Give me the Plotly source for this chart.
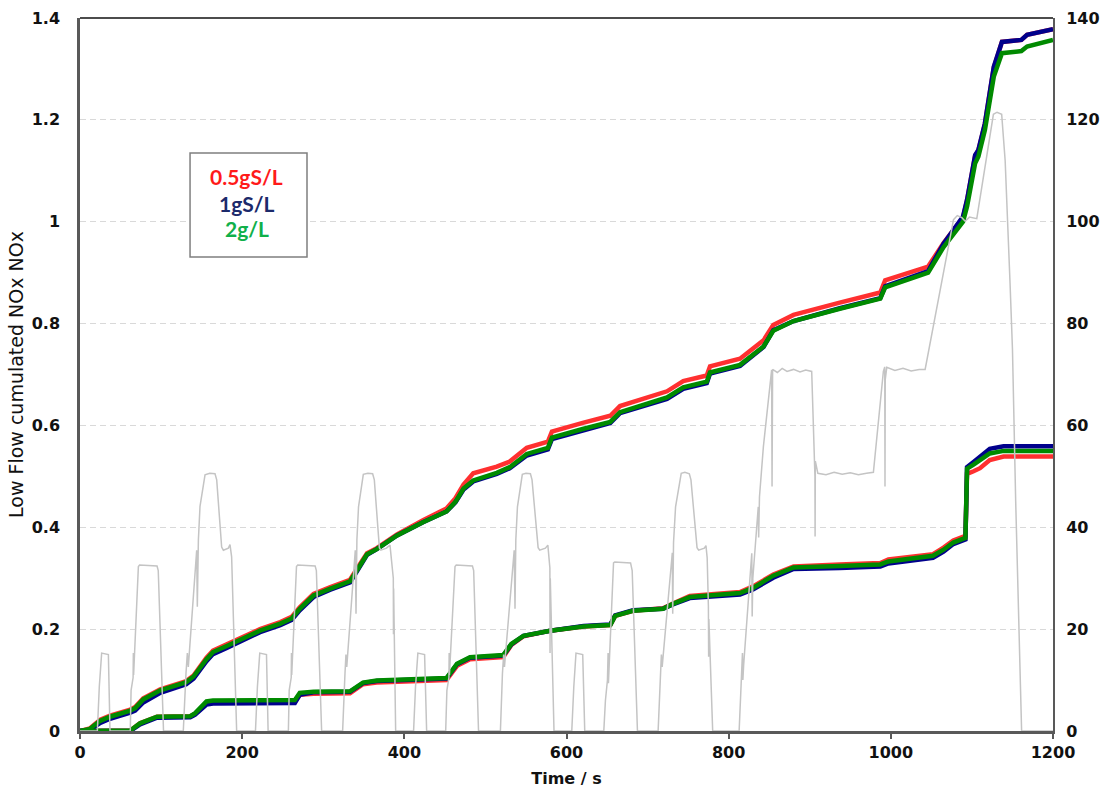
import plotly.graph_objects as go

# ---- Driving cycle speed trace (km/h), right axis ----
T_SPD = [0, 21.4, 23.8, 25.5, 26.7, 35, 37,
         62, 63, 65.5, 65.8, 66.1, 72, 73.5, 95, 96.5, 103,
         127.4, 130.7, 132.4, 133.6, 143.9, 144.7, 146, 148, 154.2, 160, 166.5, 168.6, 174.7, 176.8, 183, 185, 187, 193.2,
         216.4, 218.8, 220.5, 221.7, 230, 232,
         257, 258, 260.5, 260.8, 261.1, 267, 268.5, 290, 291.5, 298,
         323.9, 326.8, 328, 329, 339.5, 340.4, 341.5, 343.5, 349.4, 355, 360.9, 363, 369.2, 371, 378, 382.3, 384, 386.4, 386.6, 386.8, 389.3,
         411.4, 413.8, 415.5, 416.7, 425, 427.5,
         451, 452.5, 455, 455.3, 455.6, 462.5, 464, 484, 485.5, 491.5,
         518.5, 521, 522.5, 523.5, 535.5, 536.5, 537.5, 539.5, 545.5, 550, 555.5, 557.5, 565, 567, 574, 577, 578.5, 579.5, 579.7, 580, 584.6,
         606.5, 609, 610.5, 611.7, 620, 622.5,
         646, 648, 650.5, 651.3, 651.7, 658, 659.5, 679, 681, 687.5,
         713, 715.5, 717, 718, 730.5, 731, 732, 734.5, 741.5, 746, 751.5, 753.5, 761, 763, 770, 772, 773.5, 775, 775.3, 775.6, 780.3,
         812.9, 814.9, 816.5, 817, 817.5, 818.5, 828.5, 829, 829.8, 836.5, 837, 838, 842.8, 853, 853.5, 854.2,
         860, 866, 872, 880, 888, 895, 902.4, 904.6, 906.4, 906.6, 906.9, 910,
         920, 930, 940, 950, 960, 970, 978.5, 990.8, 992.5, 992.8, 993.1, 995,
         1005, 1015, 1025, 1035, 1042.3, 1077.3, 1082, 1087.6, 1091.7, 1097, 1106,
         1126.5, 1131, 1136.7, 1141, 1147, 1150, 1154, 1158, 1161.3, 1200]
V_SPD = [0, 0, 8.7, 14, 15.3, 15, 0,
         0, 8, 10.5, 15.3, 11, 32.3, 32.6, 32.4, 31.5, 0,
         0, 11.3, 15.3, 12.6, 35.5, 24.4, 37.5, 44.1, 50.3, 50.6, 50.5, 49.3, 36.1, 35.5, 35.9, 36.6, 34.2, 0,
         0, 8.7, 14, 15.3, 15, 0,
         0, 8, 10.5, 15.3, 11, 32.3, 32.6, 32.4, 31.5, 0,
         0, 11.3, 15, 12.6, 35.5, 23, 37.5, 44, 50.4, 50.6, 50.5, 49.3, 36, 35.5, 35.9, 36.5, 34, 30, 19, 28, 0,
         0, 8.7, 14, 15.3, 15, 0,
         0, 8, 10.5, 15.3, 11, 32.3, 32.6, 32.4, 31.5, 0,
         0, 11.3, 15, 12.6, 35.5, 24, 37.5, 44, 50.4, 50.6, 50.5, 49.3, 36, 35.5, 35.9, 36.5, 34, 32, 15.3, 30, 0,
         0, 8.7, 14, 15.3, 15, 0,
         0, 6, 10, 15.3, 9.4, 33, 33.2, 33, 31.5, 0,
         0, 11.3, 15, 12.6, 35, 23, 37, 44, 50.6, 50.8, 50.5, 49.3, 36, 35.5, 35.9, 36.4, 34, 24.4, 14.6, 22, 0,
         0, 7.4, 13, 15.3, 10, 13, 34.9, 22.5, 30, 44, 38, 46, 55.8, 70.9, 48, 71,
         70.4, 71.2, 70.6, 71, 70.5, 70.9, 70.6, 57.8, 50, 38.2, 53, 50.6,
         50.3, 50.8, 50.4, 50.7, 50.3, 50.6, 50.8, 70.6, 71.5, 48, 69, 71.4,
         70.8, 71.2, 70.7, 71, 71, 100.4, 101.2, 100.8, 100.1, 100.9, 100.6,
         121.1, 121.5, 121.1, 112, 88, 75, 45, 18, 0, 0]

# ---- Cumulated NOx, upper group (left axis) ----
T_UP = [0, 12, 25, 37, 62, 68, 78, 99, 131, 140, 156, 164, 181, 193, 222, 247, 261, 271, 288, 308,
        321, 333, 341, 354, 366, 382, 391, 423, 452, 463, 473, 485, 514, 530, 551, 577, 582, 620, 654, 666,
        724, 744, 773, 777, 814, 843, 855, 880, 910, 937, 987, 993, 1046, 1065, 1089, 1094, 1104, 1108, 1116, 1127, 1137,
        1145, 1161, 1168, 1200]
G_UP = [0, 0.004, 0.020, 0.028, 0.040, 0.045, 0.062, 0.080, 0.096, 0.107, 0.141, 0.155, 0.167, 0.176, 0.197, 0.211, 0.221, 0.240, 0.266, 0.279,
        0.287, 0.294, 0.314, 0.347, 0.357, 0.374, 0.384, 0.410, 0.431, 0.450, 0.476, 0.492, 0.507, 0.518, 0.544, 0.556, 0.576, 0.593, 0.607, 0.626,
        0.655, 0.675, 0.686, 0.704, 0.719, 0.755, 0.786, 0.805, 0.818, 0.829, 0.849, 0.871, 0.900, 0.950, 1.000, 1.030, 1.115, 1.128, 1.180, 1.285, 1.331,
        1.333, 1.335, 1.344, 1.357]
B_UP = [0, 0.002, 0.016, 0.024, 0.036, 0.040, 0.056, 0.075, 0.092, 0.103, 0.137, 0.151, 0.163, 0.172, 0.194, 0.208, 0.218, 0.237, 0.263, 0.277,
        0.285, 0.292, 0.312, 0.346, 0.357, 0.374, 0.384, 0.410, 0.431, 0.449, 0.474, 0.490, 0.505, 0.516, 0.541, 0.553, 0.573, 0.590, 0.605, 0.624,
        0.652, 0.672, 0.683, 0.702, 0.717, 0.754, 0.787, 0.805, 0.819, 0.830, 0.850, 0.873, 0.903, 0.957, 1.010, 1.043, 1.131, 1.141, 1.193, 1.304, 1.353,
        1.355, 1.357, 1.367, 1.378]
R_UP = [0, 0.005, 0.022, 0.030, 0.042, 0.047, 0.064, 0.082, 0.098, 0.109, 0.144, 0.158, 0.170, 0.179, 0.200, 0.214, 0.224, 0.243, 0.269, 0.282,
        0.290, 0.297, 0.317, 0.349, 0.359, 0.376, 0.386, 0.414, 0.437, 0.457, 0.484, 0.506, 0.519, 0.529, 0.556, 0.568, 0.588, 0.605, 0.619, 0.638,
        0.667, 0.687, 0.698, 0.716, 0.731, 0.767, 0.797, 0.817, 0.830, 0.841, 0.861, 0.885, 0.912, 0.958, 1.008, 1.042, 1.130, 1.140, 1.192, 1.303, 1.353,
        1.355, 1.357, 1.367, 1.378]

# ---- Cumulated NOx, lower group (left axis) ----
T_LO = [0, 62, 74, 95, 136, 142, 156, 164, 265, 271, 288, 333, 349, 366, 452, 465, 481, 522, 532, 547,
        580, 621, 654, 660, 682, 719, 732, 752, 814, 830, 855, 880, 937, 987, 997, 1052, 1065, 1077, 1092, 1094,
        1102, 1110, 1122, 1139, 1200]
G_LO = [0, 0.001, 0.015, 0.028, 0.029, 0.035, 0.058, 0.060, 0.061, 0.075, 0.077, 0.078, 0.095, 0.099, 0.104, 0.132, 0.145, 0.149, 0.171, 0.187,
        0.197, 0.205, 0.208, 0.226, 0.236, 0.240, 0.250, 0.263, 0.271, 0.281, 0.305, 0.321, 0.324, 0.327, 0.333, 0.344, 0.356, 0.370, 0.379, 0.515,
        0.523, 0.531, 0.545, 0.550, 0.550]
B_LO = [0, 0, 0.013, 0.026, 0.027, 0.032, 0.052, 0.054, 0.055, 0.071, 0.076, 0.077, 0.094, 0.098, 0.103, 0.131, 0.144, 0.148, 0.170, 0.187,
        0.197, 0.206, 0.209, 0.227, 0.237, 0.240, 0.249, 0.261, 0.268, 0.278, 0.301, 0.318, 0.320, 0.323, 0.329, 0.340, 0.352, 0.367, 0.376, 0.518,
        0.528, 0.538, 0.554, 0.559, 0.559]
R_LO = [0, 0.001, 0.015, 0.028, 0.029, 0.034, 0.055, 0.057, 0.058, 0.071, 0.073, 0.074, 0.092, 0.095, 0.100, 0.128, 0.141, 0.145, 0.169, 0.186,
        0.197, 0.205, 0.208, 0.226, 0.236, 0.241, 0.251, 0.265, 0.273, 0.284, 0.307, 0.323, 0.327, 0.330, 0.337, 0.347, 0.360, 0.374, 0.383, 0.505,
        0.510, 0.516, 0.532, 0.539, 0.539]

# ---- Axis ticks and legend entries ----
X_TICKS = [0, 200, 400, 600, 800, 1000, 1200]
X_LABELS = ["0", "200", "400", "600", "800", "1000", "1200"]
YL_TICKS = [0, 0.2, 0.4, 0.6, 0.8, 1.0, 1.2, 1.4]
YL_LABELS = ["0", "0.2", "0.4", "0.6", "0.8", "1", "1.2", "1.4"]
YR_TICKS = [0, 20, 40, 60, 80, 100, 120, 140]
YR_LABELS = ["0", "20", "40", "60", "80", "100", "120", "140"]
SERIES_NAMES = ["0.5gS/L", "1gS/L", "2g/L"]
LINE_COLORS = ["#ff3030", "#00008c", "#008a00"]
TEXT_COLORS = ["#ff1a1a", "#1c2a6b", "#10b04a"]

AXIS_GREY = "#595959"
TICK_FONT = dict(family="DejaVu Sans", size=16, color="#111111", weight="bold")

fig = go.Figure()

fig.add_trace(go.Scatter(x=T_SPD, y=V_SPD, yaxis="y2", mode="lines",
                         line=dict(color="#c4c4c4", width=1.5), showlegend=False, hoverinfo="skip"))

for i, (up, lo) in enumerate([(R_UP, R_LO), (B_UP, B_LO), (G_UP, G_LO)]):
    fig.add_trace(go.Scatter(x=T_LO, y=lo, mode="lines", name=SERIES_NAMES[i],
                             line=dict(color=LINE_COLORS[i], width=4.5), showlegend=False))
    fig.add_trace(go.Scatter(x=T_UP, y=up, mode="lines", name=SERIES_NAMES[i],
                             line=dict(color=LINE_COLORS[i], width=4.5), showlegend=False))

fig.update_layout(
    width=1102, height=792,
    margin=dict(l=80, r=49, t=18, b=61, autoexpand=False),
    paper_bgcolor="white", plot_bgcolor="white",
    xaxis=dict(range=[0, 1200], tickvals=X_TICKS, ticktext=X_LABELS,
               ticks="outside", ticklen=5, tickwidth=1.5, tickcolor=AXIS_GREY,
               showline=True, linecolor=AXIS_GREY, linewidth=2.5,
               showgrid=False, zeroline=False, tickfont=TICK_FONT,
               title=dict(text="Time / s", standoff=12,
                          font=dict(family="DejaVu Sans", size=16, color="#111111", weight="bold"))),
    yaxis=dict(range=[0, 1.4], tickvals=YL_TICKS, ticktext=YL_LABELS,
               ticks="", ticklabelstandoff=14,
               showline=True, linecolor=AXIS_GREY, linewidth=2.5,
               showgrid=True, gridcolor="#d9d9d9", gridwidth=1, griddash="6px,4px",
               zeroline=False, tickfont=TICK_FONT,
               title=dict(text="Low Flow cumulated NOx NOx", standoff=4,
                          font=dict(family="DejaVu Sans", size=19, color="#111111"))),
    yaxis2=dict(range=[0, 140], tickvals=YR_TICKS, ticktext=YR_LABELS,
                overlaying="y", side="right", ticks="", ticklabelstandoff=8,
                showline=True, linecolor=AXIS_GREY, linewidth=2,
                showgrid=False, zeroline=False, tickfont=TICK_FONT),
)

# top frame line
fig.add_shape(type="line", xref="paper", yref="paper", x0=0, x1=1, y0=1, y1=1,
              line=dict(color="#111111", width=1.5))

# legend box with coloured labels
fig.add_shape(type="rect", xref="paper", yref="paper", x0=0.1131, x1=0.2333, y0=0.6648, y1=0.8107,
              line=dict(color="#7f7f7f", width=1.5), fillcolor="white", layer="above")
for name, col, yy in zip(SERIES_NAMES, TEXT_COLORS, [0.7784, 0.7405, 0.7041]):
    fig.add_annotation(xref="paper", yref="paper", x=0.1716, y=yy, text=name, showarrow=False,
                       xanchor="center", yanchor="middle",
                       font=dict(family="Lato", size=21, color=col, weight="bold"))

fig.write_html("out.html")
